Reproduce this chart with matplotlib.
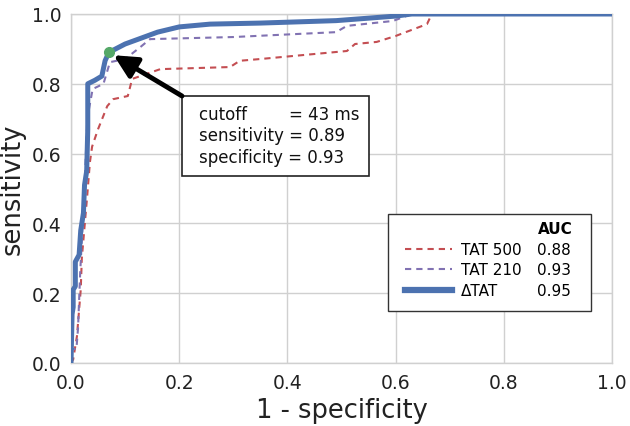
import matplotlib
matplotlib.use("Agg")
import matplotlib.pyplot as plt
from matplotlib.lines import Line2D
from matplotlib.patches import Rectangle

# ROC curves (x = 1 - specificity, y = sensitivity)
tat500_x = [0, 0.004, 0.011, 0.018, 0.02, 0.03, 0.035, 0.039, 0.05, 0.067, 0.078,
            0.105, 0.113, 0.165, 0.294, 0.312, 0.35, 0.51, 0.525, 0.565, 0.60,
            0.658, 0.667, 1.0]
tat500_y = [0, 0.01, 0.077, 0.21, 0.30, 0.48, 0.576, 0.62, 0.67, 0.736, 0.756,
            0.765, 0.814, 0.842, 0.848, 0.866, 0.871, 0.894, 0.914, 0.92, 0.937,
            0.971, 1.0, 1.0]

tat210_x = [0, 0.002, 0.01, 0.013, 0.017, 0.025, 0.03, 0.04, 0.06, 0.072, 0.10,
            0.128, 0.146, 0.30, 0.49, 0.51, 0.595, 0.63, 1.0]
tat210_y = [0, 0.04, 0.04, 0.10, 0.26, 0.50, 0.70, 0.785, 0.80, 0.862, 0.871,
            0.905, 0.928, 0.934, 0.948, 0.966, 0.98, 1.0, 1.0]

dtat_x = [0, 0.002, 0.004, 0.004, 0.008, 0.008, 0.015, 0.018, 0.023, 0.025, 0.029,
          0.031, 0.031, 0.044, 0.057, 0.063, 0.070, 0.10, 0.16, 0.20, 0.257,
          0.35, 0.49, 0.60, 0.63, 1.0]
dtat_y = [0, 0.14, 0.16, 0.21, 0.22, 0.29, 0.31, 0.38, 0.43, 0.51, 0.55,
          0.67, 0.80, 0.81, 0.822, 0.866, 0.89, 0.914, 0.948, 0.963, 0.971,
          0.974, 0.981, 0.994, 1.0, 1.0]

series_labels = ["TAT 500", "TAT 210", "\u0394TAT"]
auc_values = ["0.88", "0.93", "0.95"]

cutoff_x = 0.07
cutoff_y = 0.89
cutoff_text = "cutoff        = 43 ms\nsensitivity = 0.89\nspecificity = 0.93"

red = "#C44E52"
purple = "#8172B2"
blue = "#4C72B0"
green = "#55A868"

fig = plt.figure(figsize=(6.3, 4.27), dpi=100)
ax = fig.add_axes([71/630, 1-364/427, 541/630, 349/427])

dash = (0, (3, 2.4))
l1, = ax.plot(tat500_x, tat500_y, color=red, lw=1.5, linestyle=dash, zorder=3)
l2, = ax.plot(tat210_x, tat210_y, color=purple, lw=1.5, linestyle=dash, zorder=3)
l3, = ax.plot(dtat_x, dtat_y, color=blue, lw=3.6, solid_joinstyle="round", zorder=4)
ax.plot([cutoff_x], [cutoff_y], "o", color=green, ms=7, zorder=6)

ax.set_xlim(0, 1)
ax.set_ylim(0, 1)
ticks = [0, 0.2, 0.4, 0.6, 0.8, 1.0]
ax.set_xticks(ticks)
ax.set_yticks(ticks)
ax.set_xticklabels([f"{t:.1f}" for t in ticks])
ax.set_yticklabels([f"{t:.1f}" for t in ticks])
ax.tick_params(length=0, labelsize=13.5, pad=7, colors="#222222")
ax.grid(True, color="#d0d0d0", lw=1)
ax.set_axisbelow(True)
for sp in ax.spines.values():
    sp.set_color("#d0d0d0")
    sp.set_linewidth(1)

ax.set_xlabel("1 - specificity", fontsize=18.5, labelpad=4, color="#222222")
ax.set_ylabel("sensitivity", fontsize=18.5, labelpad=4, color="#222222")

def axf(px, py):
    return (px - 71) / 541, (364 - py) / 349

# annotation box
bx0, by0 = axf(182, 177)
bx1, by1 = axf(369, 97)
ax.add_patch(Rectangle((bx0, by0), bx1 - bx0, by1 - by0, transform=ax.transAxes,
                       facecolor="white", edgecolor="#222222", lw=1.2, zorder=7))
tx, ty = axf(199, 106)
ax.text(tx, ty, cutoff_text, transform=ax.transAxes,
        ha="left", va="top", fontsize=12, linespacing=1.25, color="#111111", zorder=8)
ax.annotate("", xy=(cutoff_x, cutoff_y), xycoords="data",
            xytext=(bx0, by1), textcoords="axes fraction",
            arrowprops=dict(arrowstyle="-|>,head_length=0.7,head_width=0.35",
                            color="black", lw=3.5, shrinkA=0, shrinkB=4,
                            mutation_scale=20),
            zorder=7)

# legend frame
lx0, ly0 = axf(388, 312)
lx1, ly1 = axf(591, 215)
ax.add_patch(Rectangle((lx0, ly0), lx1 - lx0, ly1 - ly0, transform=ax.transAxes,
                       facecolor="white", edgecolor="#333333", lw=1.0, zorder=8))

# legend with AUC column
blank = Line2D([], [], color="none")
handles = [blank, l1, l2, l3, blank, blank, blank, blank]
labels = [""] + series_labels + ["AUC"] + auc_values
leg = ax.legend(handles, labels, ncol=2, loc="upper left",
                bbox_to_anchor=axf(405, 222.5),
                fontsize=11, frameon=False, handlelength=3.1,
                handletextpad=0.55, columnspacing=-2.6, labelspacing=0.36,
                borderpad=0, borderaxespad=0)
leg.get_texts()[4].set_fontweight("bold")
leg.legend_handles[3].set_linewidth(4.5)
leg.set_zorder(9)

fig.savefig("out.png", dpi=100)
